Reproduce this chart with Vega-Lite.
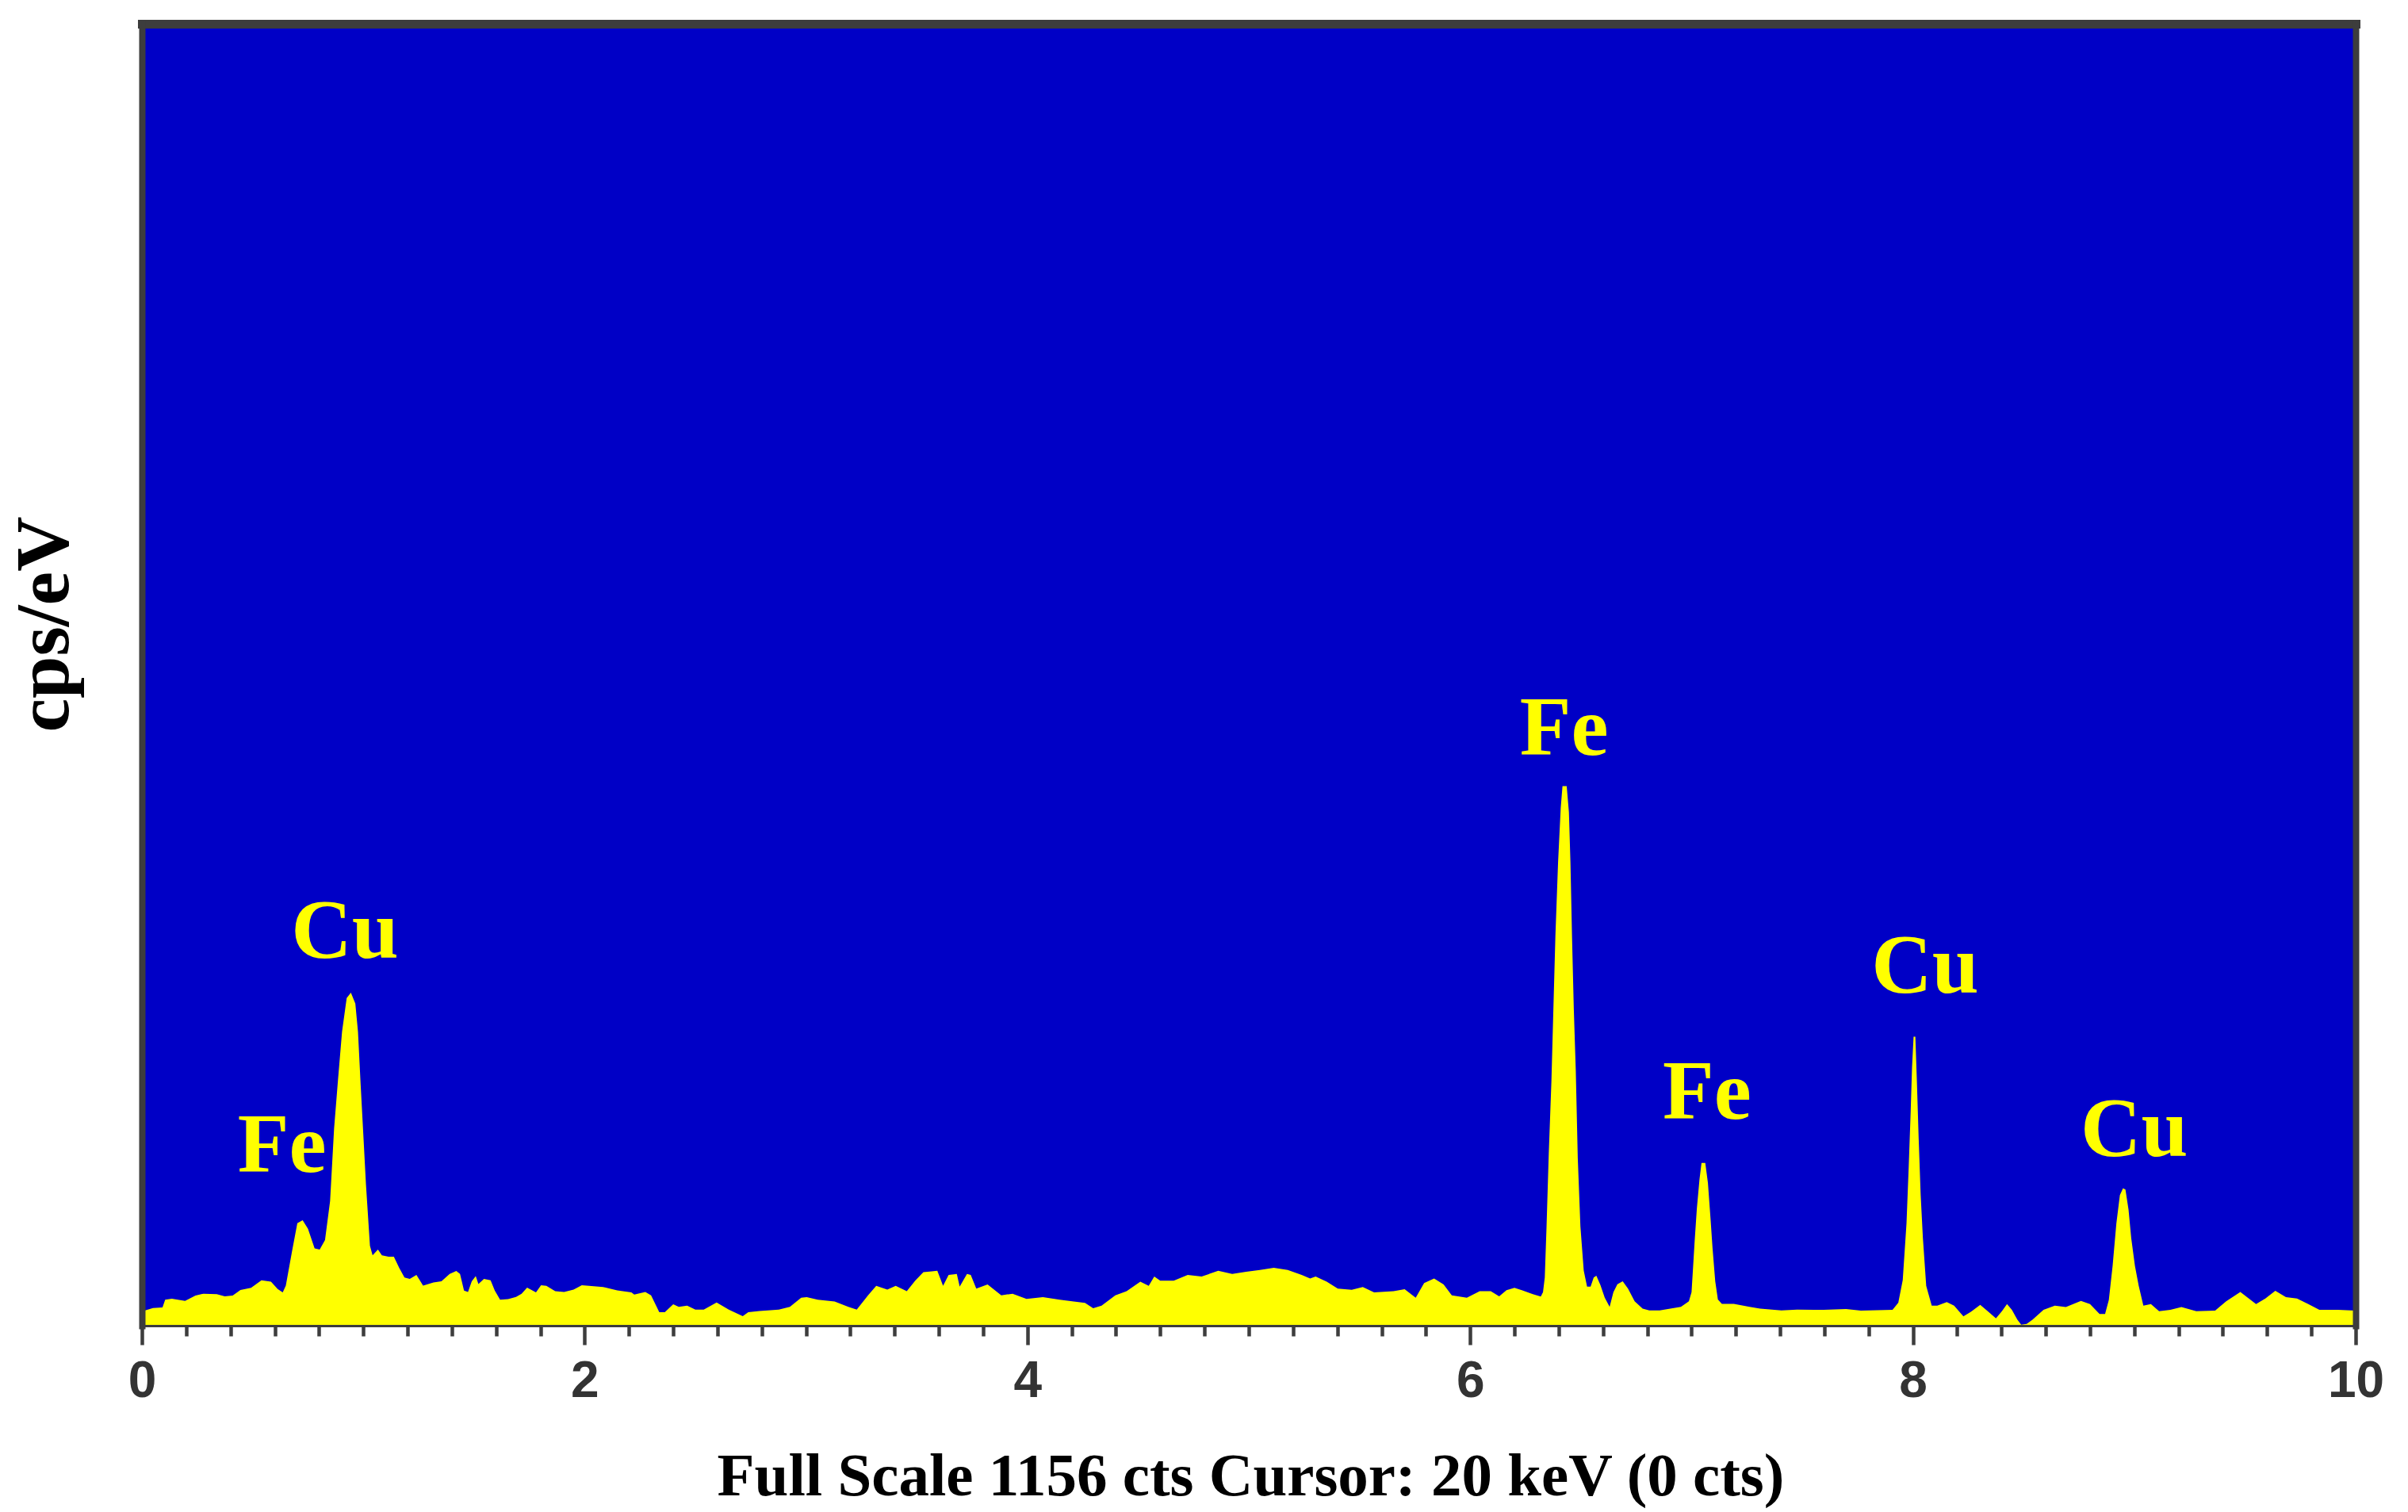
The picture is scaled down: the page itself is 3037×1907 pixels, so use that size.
{
  "$schema": "https://vega.github.io/schema/vega-lite/v6.json",
  "width": 2792,
  "height": 1642,
  "autosize": "none",
  "padding": {"left": 179, "top": 30, "right": 66, "bottom": 235},
  "background": "#ffffff",
  "config": {"view": {"fill": "#0000C6", "stroke": null}},
  "datasets": {
    "spectrum": [
      {"e": 0, "c": 12.7}, {"e": 0.05, "c": 15.6}, {"e": 0.093, "c": 16.2}, {"e": 0.105, "c": 23}, {"e": 0.135, "c": 24},
      {"e": 0.195, "c": 22}, {"e": 0.242, "c": 26.7}, {"e": 0.278, "c": 28.4}, {"e": 0.338, "c": 28}, {"e": 0.374, "c": 26},
      {"e": 0.41, "c": 26.7}, {"e": 0.445, "c": 31.7}, {"e": 0.493, "c": 33.7}, {"e": 0.54, "c": 40.3}, {"e": 0.583, "c": 39},
      {"e": 0.613, "c": 32.5}, {"e": 0.636, "c": 29.6}, {"e": 0.65, "c": 35.6}, {"e": 0.678, "c": 66}, {"e": 0.702, "c": 91},
      {"e": 0.726, "c": 93.6}, {"e": 0.75, "c": 86}, {"e": 0.78, "c": 68.7}, {"e": 0.803, "c": 67.5}, {"e": 0.827, "c": 76},
      {"e": 0.85, "c": 110.7}, {"e": 0.868, "c": 175}, {"e": 0.886, "c": 219}, {"e": 0.904, "c": 261}, {"e": 0.925, "c": 291},
      {"e": 0.944, "c": 295.7}, {"e": 0.964, "c": 286}, {"e": 0.976, "c": 261}, {"e": 0.988, "c": 214}, {"e": 1.0, "c": 170},
      {"e": 1.012, "c": 125.5}, {"e": 1.03, "c": 71}, {"e": 1.042, "c": 62.5}, {"e": 1.066, "c": 67.5}, {"e": 1.084, "c": 62.5},
      {"e": 1.114, "c": 61.3}, {"e": 1.138, "c": 61.3}, {"e": 1.162, "c": 51.4}, {"e": 1.186, "c": 42.8}, {"e": 1.21, "c": 41.6},
      {"e": 1.24, "c": 45}, {"e": 1.258, "c": 39.4}, {"e": 1.27, "c": 35.5}, {"e": 1.317, "c": 38.3}, {"e": 1.353, "c": 39.5},
      {"e": 1.39, "c": 46}, {"e": 1.42, "c": 48.6}, {"e": 1.437, "c": 46}, {"e": 1.455, "c": 31.2}, {"e": 1.473, "c": 30},
      {"e": 1.49, "c": 39.4}, {"e": 1.508, "c": 44}, {"e": 1.52, "c": 37}, {"e": 1.545, "c": 41.6}, {"e": 1.575, "c": 40.3},
      {"e": 1.594, "c": 31.2}, {"e": 1.618, "c": 23}, {"e": 1.654, "c": 23.5}, {"e": 1.69, "c": 25.5}, {"e": 1.715, "c": 28.4},
      {"e": 1.74, "c": 33.8}, {"e": 1.78, "c": 29.6}, {"e": 1.803, "c": 35.9}, {"e": 1.827, "c": 35.4}, {"e": 1.867, "c": 30.7},
      {"e": 1.907, "c": 30}, {"e": 1.95, "c": 32}, {"e": 1.987, "c": 35.9}, {"e": 2.02, "c": 35.4}, {"e": 2.083, "c": 34.3},
      {"e": 2.147, "c": 31.4}, {"e": 2.211, "c": 29.6}, {"e": 2.224, "c": 27.7}, {"e": 2.274, "c": 30}, {"e": 2.3, "c": 27},
      {"e": 2.337, "c": 12}, {"e": 2.362, "c": 12}, {"e": 2.4, "c": 19}, {"e": 2.425, "c": 16.7}, {"e": 2.463, "c": 17.8},
      {"e": 2.5, "c": 14.3}, {"e": 2.538, "c": 14.3}, {"e": 2.596, "c": 20.6}, {"e": 2.651, "c": 14.3}, {"e": 2.714, "c": 8.4},
      {"e": 2.739, "c": 12}, {"e": 2.79, "c": 13}, {"e": 2.877, "c": 14.3}, {"e": 2.927, "c": 16.7}, {"e": 2.978, "c": 24.9},
      {"e": 3.003, "c": 25.3}, {"e": 3.053, "c": 23}, {"e": 3.129, "c": 21.4}, {"e": 3.191, "c": 16.7}, {"e": 3.229, "c": 14.3},
      {"e": 3.28, "c": 27}, {"e": 3.317, "c": 35.4}, {"e": 3.367, "c": 32}, {"e": 3.405, "c": 35.4}, {"e": 3.455, "c": 30.7},
      {"e": 3.493, "c": 40}, {"e": 3.53, "c": 47.6}, {"e": 3.568, "c": 48.3}, {"e": 3.593, "c": 48.8}, {"e": 3.619, "c": 35.4},
      {"e": 3.644, "c": 45}, {"e": 3.668, "c": 45.5}, {"e": 3.681, "c": 46}, {"e": 3.694, "c": 34.7}, {"e": 3.727, "c": 46},
      {"e": 3.744, "c": 45}, {"e": 3.769, "c": 33}, {"e": 3.82, "c": 36.6}, {"e": 3.882, "c": 27}, {"e": 3.933, "c": 28.4},
      {"e": 3.996, "c": 23.7}, {"e": 4.07, "c": 25.3}, {"e": 4.146, "c": 23}, {"e": 4.209, "c": 21.4}, {"e": 4.26, "c": 20.2},
      {"e": 4.297, "c": 15.5}, {"e": 4.335, "c": 17.8}, {"e": 4.397, "c": 27}, {"e": 4.448, "c": 30.7}, {"e": 4.51, "c": 39},
      {"e": 4.548, "c": 35.4}, {"e": 4.573, "c": 43.6}, {"e": 4.6, "c": 40}, {"e": 4.661, "c": 40}, {"e": 4.724, "c": 45},
      {"e": 4.787, "c": 43.6}, {"e": 4.862, "c": 48.8}, {"e": 4.925, "c": 46}, {"e": 4.988, "c": 47.8}, {"e": 5.05, "c": 49.5},
      {"e": 5.113, "c": 51.4}, {"e": 5.176, "c": 49.5}, {"e": 5.239, "c": 45}, {"e": 5.277, "c": 41.9}, {"e": 5.302, "c": 43.6},
      {"e": 5.352, "c": 39}, {"e": 5.402, "c": 33}, {"e": 5.465, "c": 31.9}, {"e": 5.515, "c": 34.3}, {"e": 5.566, "c": 29.6},
      {"e": 5.654, "c": 30.7}, {"e": 5.704, "c": 32.4}, {"e": 5.754, "c": 24.9}, {"e": 5.792, "c": 37.8}, {"e": 5.837, "c": 41.9},
      {"e": 5.88, "c": 36.6}, {"e": 5.917, "c": 27}, {"e": 5.985, "c": 24.9}, {"e": 6.043, "c": 30.7}, {"e": 6.093, "c": 30.7},
      {"e": 6.131, "c": 26}, {"e": 6.164, "c": 31.5}, {"e": 6.2, "c": 33.6}, {"e": 6.236, "c": 31.4}, {"e": 6.283, "c": 28},
      {"e": 6.319, "c": 25.9}, {"e": 6.329, "c": 29.7}, {"e": 6.337, "c": 42.7}, {"e": 6.345, "c": 88}, {"e": 6.355, "c": 152.5},
      {"e": 6.367, "c": 217}, {"e": 6.376, "c": 282}, {"e": 6.385, "c": 346}, {"e": 6.397, "c": 411}, {"e": 6.409, "c": 459.6},
      {"e": 6.417, "c": 479}, {"e": 6.436, "c": 479}, {"e": 6.446, "c": 456}, {"e": 6.453, "c": 411}, {"e": 6.46, "c": 346},
      {"e": 6.468, "c": 282}, {"e": 6.477, "c": 227}, {"e": 6.486, "c": 149}, {"e": 6.498, "c": 88}, {"e": 6.513, "c": 49},
      {"e": 6.528, "c": 34.6}, {"e": 6.544, "c": 34.6}, {"e": 6.558, "c": 42.7}, {"e": 6.57, "c": 44.3}, {"e": 6.588, "c": 36.2},
      {"e": 6.608, "c": 24.9}, {"e": 6.63, "c": 16.8}, {"e": 6.647, "c": 29.7}, {"e": 6.665, "c": 36.8}, {"e": 6.689, "c": 39.4},
      {"e": 6.713, "c": 33}, {"e": 6.743, "c": 21.7}, {"e": 6.779, "c": 15.2}, {"e": 6.809, "c": 13.6}, {"e": 6.856, "c": 13.6},
      {"e": 6.904, "c": 15.2}, {"e": 6.952, "c": 16.8}, {"e": 6.988, "c": 21.7}, {"e": 7.0, "c": 29.7}, {"e": 7.006, "c": 49},
      {"e": 7.014, "c": 75}, {"e": 7.024, "c": 104}, {"e": 7.036, "c": 130}, {"e": 7.045, "c": 144.5}, {"e": 7.062, "c": 144.5},
      {"e": 7.074, "c": 126.7}, {"e": 7.086, "c": 94.4}, {"e": 7.095, "c": 68.5}, {"e": 7.107, "c": 39.4}, {"e": 7.119, "c": 23.3},
      {"e": 7.137, "c": 19.4}, {"e": 7.191, "c": 19.4}, {"e": 7.262, "c": 16.8}, {"e": 7.31, "c": 15.2}, {"e": 7.406, "c": 13.6},
      {"e": 7.477, "c": 14.2}, {"e": 7.597, "c": 14.1}, {"e": 7.698, "c": 14.8}, {"e": 7.765, "c": 13.3}, {"e": 7.908, "c": 14},
      {"e": 7.934, "c": 20.4}, {"e": 7.954, "c": 40.5}, {"e": 7.971, "c": 90.8}, {"e": 7.981, "c": 141}, {"e": 7.99, "c": 191},
      {"e": 7.996, "c": 229}, {"e": 8.003, "c": 256.7}, {"e": 8.011, "c": 256.7}, {"e": 8.018, "c": 216.5}, {"e": 8.026, "c": 166},
      {"e": 8.035, "c": 116}, {"e": 8.045, "c": 78}, {"e": 8.06, "c": 35.4}, {"e": 8.085, "c": 17.8}, {"e": 8.11, "c": 17.8},
      {"e": 8.153, "c": 20.9}, {"e": 8.186, "c": 17.8}, {"e": 8.228, "c": 8.3}, {"e": 8.262, "c": 12.3}, {"e": 8.304, "c": 18.4},
      {"e": 8.338, "c": 12.8}, {"e": 8.375, "c": 6.5}, {"e": 8.402, "c": 12.8}, {"e": 8.425, "c": 19.1}, {"e": 8.447, "c": 14},
      {"e": 8.472, "c": 5.3}, {"e": 8.489, "c": 0.8}, {"e": 8.514, "c": 1.5}, {"e": 8.54, "c": 5.3}, {"e": 8.59, "c": 14},
      {"e": 8.641, "c": 17.8}, {"e": 8.691, "c": 16.6}, {"e": 8.759, "c": 22}, {"e": 8.8, "c": 19.1}, {"e": 8.843, "c": 10.3},
      {"e": 8.868, "c": 10.3}, {"e": 8.885, "c": 22.9}, {"e": 8.902, "c": 53}, {"e": 8.919, "c": 90.8}, {"e": 8.935, "c": 116},
      {"e": 8.949, "c": 122}, {"e": 8.96, "c": 121}, {"e": 8.974, "c": 103}, {"e": 8.986, "c": 78}, {"e": 9.003, "c": 53},
      {"e": 9.02, "c": 35.4}, {"e": 9.041, "c": 17.8}, {"e": 9.075, "c": 19.1}, {"e": 9.112, "c": 12.8}, {"e": 9.163, "c": 14},
      {"e": 9.213, "c": 16.6}, {"e": 9.28, "c": 12.8}, {"e": 9.365, "c": 13.3}, {"e": 9.415, "c": 21.6}, {"e": 9.479, "c": 29.9},
      {"e": 9.55, "c": 19.1}, {"e": 9.592, "c": 24.1}, {"e": 9.637, "c": 31}, {"e": 9.685, "c": 25.4}, {"e": 9.735, "c": 24.1},
      {"e": 9.786, "c": 19.1}, {"e": 9.836, "c": 14}, {"e": 9.92, "c": 14}, {"e": 10, "c": 13.3}
    ],
    "fe": [
      {"e": 0.633, "c": 136.6, "t": "Fe"},
      {"e": 6.424, "c": 507, "t": "Fe"},
      {"e": 7.07, "c": 184.1, "t": "Fe"}
    ],
    "cu": [
      {"e": 0.917, "c": 326.7, "t": "Cu"},
      {"e": 8.055, "c": 295.7, "t": "Cu"},
      {"e": 9.0, "c": 150.7, "t": "Cu"}
    ]
  },
  "layer": [
    {
      "data": {"name": "spectrum"},
      "mark": {"type": "area", "color": "#FFFF00", "interpolate": "linear", "opacity": 1},
      "encoding": {
        "x": {
          "field": "e", "type": "quantitative",
          "scale": {"domain": [0, 10], "nice": false, "zero": false},
          "axis": {
            "orient": "bottom", "zindex": 1,
            "values": [0, 2, 4, 6, 8, 10],
            "grid": false,
            "domain": true, "domainColor": "#3d3d3d", "domainWidth": 3,
            "ticks": true, "tickColor": "#3d3d3d", "tickWidth": 4.5, "tickSize": 24,
            "labels": true, "labelFont": "Liberation Sans", "labelFontWeight": "bold", "labelFontSize": 64,
            "labelColor": "#333333", "labelPadding": 14, "labelFlush": false, "labelOverlap": false, "labelBound": false,
            "format": "d",
            "title": "Full Scale 1156 cts Cursor: 20 keV (0 cts)",
            "titleFont": "Liberation Serif", "titleFontWeight": "bold", "titleFontSize": 77, "titleColor": "#000000",
            "titleX": 1398, "titleY": 213, "titleAlign": "center", "titleBaseline": "alphabetic", "titleAngle": 0
          }
        },
        "y": {
          "field": "c", "type": "quantitative",
          "scale": {"domain": [0, 1156], "nice": false, "zero": true},
          "axis": {
            "orient": "left", "zindex": 1,
            "grid": false, "ticks": false, "labels": false,
            "domain": true, "domainColor": "#3d3d3d", "domainWidth": 8, "domainCap": "square",
            "title": "cps/eV",
            "titleFont": "Liberation Serif", "titleFontWeight": "bold", "titleFontSize": 96, "titleColor": "#000000",
            "titleX": -94, "titleY": 757, "titleAngle": -90, "titleAlign": "center", "titleBaseline": "alphabetic"
          }
        }
      }
    },
    {
      "data": {"name": "fe"},
      "mark": {"type": "text", "font": "Liberation Serif", "fontWeight": "bold", "fontSize": 106, "color": "#FFFF00", "align": "center", "baseline": "alphabetic"},
      "encoding": {
        "x": {
          "field": "e", "type": "quantitative",
          "scale": {"domain": [0, 10], "nice": false, "zero": false},
          "axis": {"orient": "top", "zindex": 1, "grid": false, "ticks": false, "labels": false, "title": null,
                   "domain": true, "domainColor": "#3d3d3d", "domainWidth": 11, "domainCap": "square"}
        },
        "y": {
          "field": "c", "type": "quantitative",
          "scale": {"domain": [0, 1156], "nice": false, "zero": true},
          "axis": {"orient": "right", "zindex": 1, "grid": false, "ticks": false, "labels": false, "title": null,
                   "domain": true, "domainColor": "#3d3d3d", "domainWidth": 8, "domainCap": "square"}
        },
        "text": {"field": "t"}
      }
    },
    {
      "data": {"name": "cu"},
      "mark": {"type": "text", "font": "Liberation Serif", "fontWeight": "bold", "fontSize": 106, "color": "#FFFF00", "align": "center", "baseline": "alphabetic"},
      "encoding": {
        "x": {
          "field": "e", "type": "quantitative",
          "scale": {"domain": [0, 10], "nice": false, "zero": false},
          "axis": {"orient": "bottom", "zindex": 1, "grid": false, "domain": false, "labels": false, "title": null,
                   "values": [0.2, 0.4, 0.6, 0.8, 1.2, 1.4, 1.6, 1.8, 2.2, 2.4, 2.6, 2.8, 3.2, 3.4, 3.6, 3.8, 4.2, 4.4, 4.6, 4.8, 5.2, 5.4, 5.6, 5.8, 6.2, 6.4, 6.6, 6.8, 7.2, 7.4, 7.6, 7.8, 8.2, 8.4, 8.6, 8.8, 9.2, 9.4, 9.6, 9.8, 1, 3, 5, 7, 9],
                   "ticks": true, "tickColor": "#3d3d3d", "tickWidth": 4.5, "tickSize": 13}
        },
        "y": {
          "field": "c", "type": "quantitative",
          "scale": {"domain": [0, 1156], "nice": false, "zero": true},
          "axis": null
        },
        "text": {"field": "t"}
      }
    }
  ],
  "resolve": {"axis": {"x": "independent", "y": "independent"}}
}
